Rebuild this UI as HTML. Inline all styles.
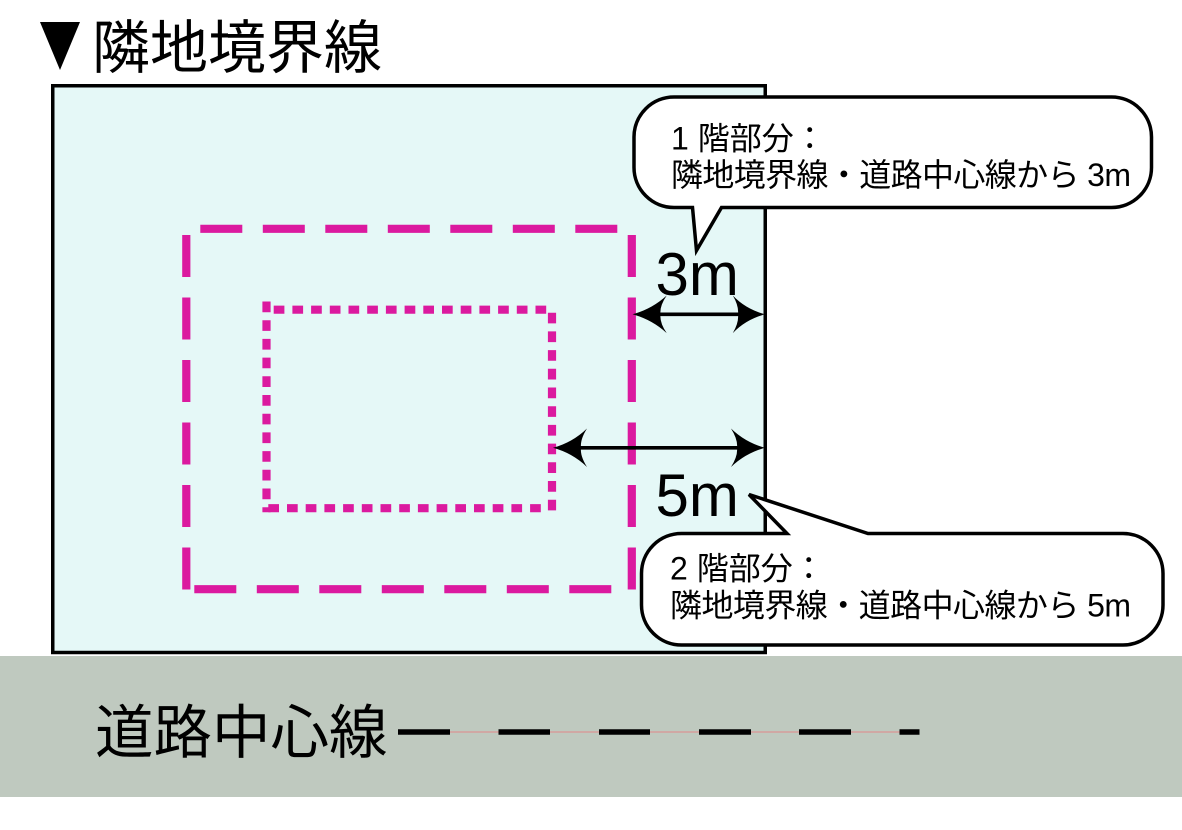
<!DOCTYPE html>
<html>
<head>
<meta charset="utf-8">
<style>
  html,body{margin:0;padding:0;background:#fff;}
  svg{display:block;}
  .cjk{font-family:"Liberation Sans","Noto Sans CJK JP",sans-serif;}
</style>
</head>
<body>
<svg width="1182" height="830" viewBox="0 0 1182 830" xmlns="http://www.w3.org/2000/svg">
  <rect x="0" y="0" width="1182" height="830" fill="#ffffff"/>

  <!-- road band -->
  <rect x="0" y="656" width="1182" height="141" fill="#bfc9bf"/>

  <!-- lot box -->
  <rect x="52.75" y="85.75" width="712.5" height="566.75" fill="#e5f8f7" stroke="#000" stroke-width="3.5"/>

  <!-- title -->
  <polygon points="40,22 80,22 60,70" fill="#000"/>
  <text class="cjk" x="92" y="68" font-size="58" fill="#000">隣地境界線</text>

  <!-- dashed rectangle (1F) -->
  <g stroke="#db1a9f" stroke-width="8.2" fill="none">
    <line x1="200.3" y1="228.8" x2="617.5" y2="228.8" stroke-dasharray="42 20.5"/>
    <line x1="194.3" y1="589.2" x2="611.5" y2="589.2" stroke-dasharray="42 20.5"/>
    <line x1="186.3" y1="235" x2="186.3" y2="589.5" stroke-dasharray="42 20.5"/>
    <line x1="631.8" y1="235" x2="631.8" y2="589.5" stroke-dasharray="42 20.5"/>
  </g>

  <!-- dotted rectangle (2F) -->
  <g stroke="#db1a9f" stroke-width="8.2" fill="none">
    <line x1="273.7" y1="309.7" x2="547" y2="309.7" stroke-dasharray="10.7 8"/>
    <line x1="268.3" y1="508.2" x2="543" y2="508.2" stroke-dasharray="10.7 8"/>
    <line x1="266.5" y1="301.5" x2="266.5" y2="512.3" stroke-dasharray="10.7 8"/>
    <line x1="552" y1="312.7" x2="552" y2="512.3" stroke-dasharray="10.7 8"/>
  </g>

  <!-- 3m arrow -->
  <g fill="#000" stroke="none">
    <line x1="652" y1="314.3" x2="746" y2="314.3" stroke="#000" stroke-width="3.6"/>
    <path d="M632.5 314.3 Q652 309 666.7 295.5 Q659.5 306 660.5 314.3 Q659.5 322.6 666.7 333.1 Q652 319.6 632.5 314.3 Z"/>
    <path d="M765 314.3 Q745.5 309 732.8 295.5 Q739 306 738 314.3 Q739 322.6 732.8 333.1 Q745.5 319.6 765 314.3 Z"/>
  </g>

  <!-- 5m arrow -->
  <g fill="#000" stroke="none">
    <line x1="572" y1="447.8" x2="746" y2="447.8" stroke="#000" stroke-width="3.6"/>
    <path d="M553 447.8 Q572.5 442.5 587 428.5 Q580 439.5 581 447.8 Q580 456.1 587 467 Q572.5 453.1 553 447.8 Z"/>
    <path d="M765 447.8 Q745.5 442.5 731 428.5 Q738 439.5 737 447.8 Q738 456.1 731 467 Q745.5 453.1 765 447.8 Z"/>
  </g>

  <!-- dimension labels -->
  <text x="655.5" y="295" font-family="Liberation Sans, sans-serif" font-size="60" fill="#000">3m</text>
  <text x="655.5" y="516" font-family="Liberation Sans, sans-serif" font-size="60" fill="#000">5m</text>

  <!-- bubble 1 -->
  <path d="M674 97 H1111.5 A40 40 0 0 1 1151.5 137 V167.5 A40 40 0 0 1 1111.5 207.5 H721.5 L696.5 250.5 L692.5 207.5 H674 A40 40 0 0 1 634 167.5 V137 A40 40 0 0 1 674 97 Z"
        fill="#ffffff" stroke="#000" stroke-width="3.5" stroke-linejoin="miter"/>
  <text class="cjk" x="671" y="149.5" font-size="32" fill="#000">1 階部分：</text>
  <text class="cjk" x="671" y="186" font-size="32" fill="#000" textLength="460" lengthAdjust="spacing">隣地境界線・道路中心線から 3m</text>

  <!-- bubble 2 -->
  <path d="M681.5 533.5 H787 L749 494.5 L868 533.5 H1123 A40 40 0 0 1 1163 573.5 V605 A40 40 0 0 1 1123 645 H681.5 A40 40 0 0 1 641.5 605 V573.5 A40 40 0 0 1 681.5 533.5 Z"
        fill="#ffffff" stroke="#000" stroke-width="3.5" stroke-linejoin="miter"/>
  <text class="cjk" x="670" y="579.5" font-size="32" fill="#000">2 階部分：</text>
  <text class="cjk" x="670" y="616.5" font-size="32" fill="#000" textLength="461" lengthAdjust="spacing">隣地境界線・道路中心線から 5m</text>

  <!-- road center line -->
  <text class="cjk" x="95" y="753" font-size="58.5" fill="#000">道路中心線</text>
  <line x1="398" y1="732" x2="919" y2="732" stroke="#e08888" stroke-width="1"/>
  <g stroke="#000" stroke-width="5.5">
    <line x1="398" y1="732" x2="450" y2="732"/>
    <line x1="498.5" y1="732" x2="550" y2="732"/>
    <line x1="599" y1="732" x2="650" y2="732"/>
    <line x1="699" y1="732" x2="751" y2="732"/>
    <line x1="799" y1="732" x2="851" y2="732"/>
    <line x1="899.5" y1="732" x2="919.5" y2="732"/>
  </g>
</svg>
</body>
</html>
